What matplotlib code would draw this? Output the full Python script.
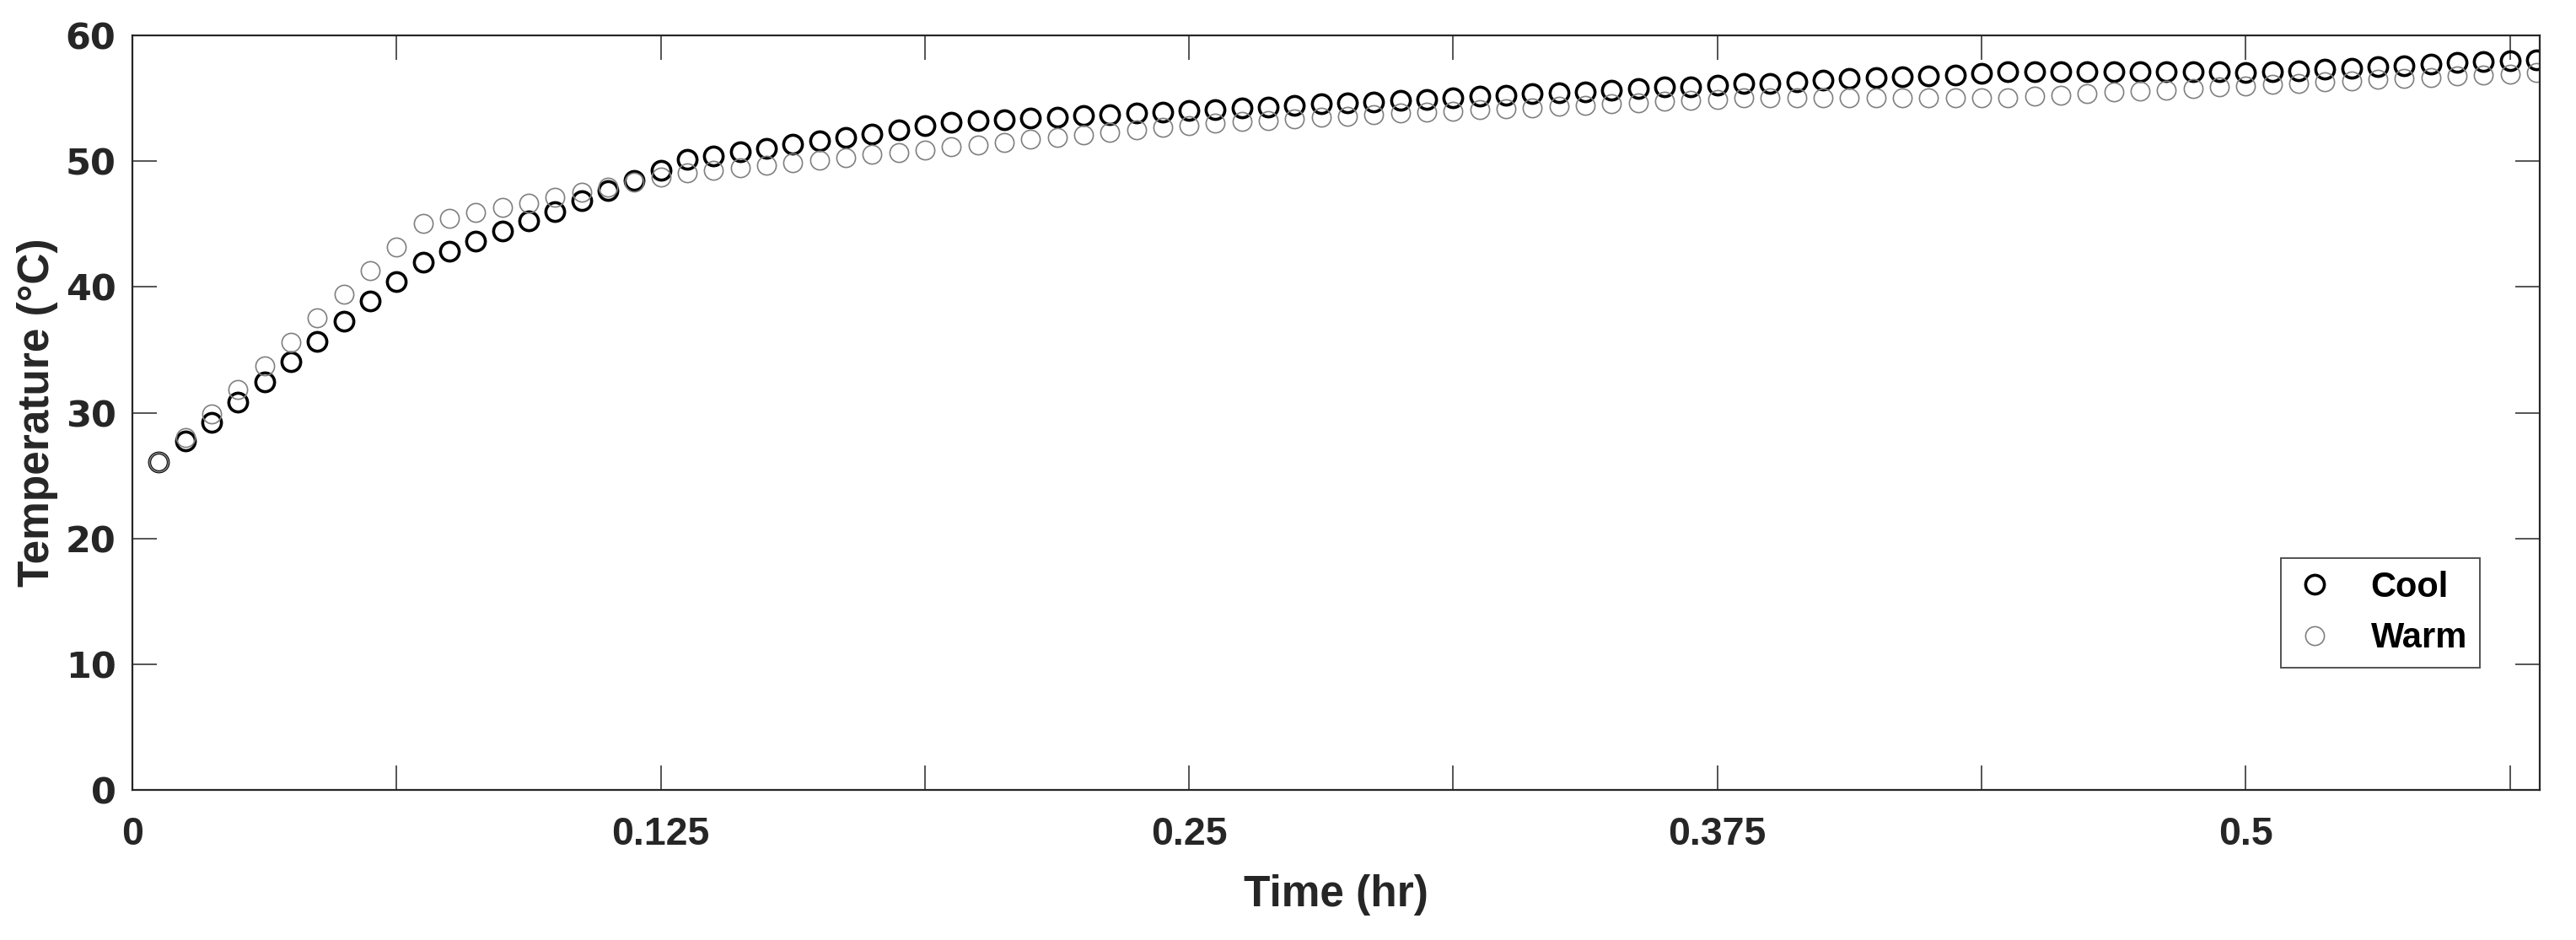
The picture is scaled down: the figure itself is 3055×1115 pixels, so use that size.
import numpy as np
import matplotlib
matplotlib.use("Agg")
import matplotlib.pyplot as plt

# temperature readings (deg C), one sample every 22.5 s
cool = [26.08, 27.75, 29.24, 30.87, 32.47, 34.05, 35.70, 37.26, 38.89, 40.44,
        42.00, 42.84, 43.67, 44.44, 45.23, 46.02, 46.83, 47.67, 48.46, 49.30,
        50.12, 50.40, 50.74, 51.01, 51.34, 51.63, 51.90, 52.19, 52.48, 52.82,
        53.08, 53.20, 53.31, 53.42, 53.53, 53.64, 53.73, 53.82, 53.93, 54.04,
        54.13, 54.22, 54.31, 54.42, 54.54, 54.65, 54.72, 54.83, 54.94, 55.03,
        55.16, 55.25, 55.36, 55.43, 55.54, 55.65, 55.76, 55.88, 55.94, 56.05,
        56.15, 56.21, 56.34, 56.43, 56.55, 56.66, 56.70, 56.81, 56.88, 56.99,
        57.10, 57.10, 57.10, 57.10, 57.10, 57.10, 57.10, 57.10, 57.10, 57.08,
        57.10, 57.22, 57.33, 57.42, 57.53, 57.60, 57.73, 57.84, 57.95, 58.00,
        58.06]
warm = [26.08, 28.04, 29.91, 31.83, 33.69, 35.61, 37.53, 39.42, 41.28, 43.15,
        45.07, 45.47, 45.90, 46.31, 46.67, 47.10, 47.55, 47.95, 48.35, 48.72,
        49.06, 49.28, 49.51, 49.69, 49.89, 50.07, 50.29, 50.52, 50.69, 50.89,
        51.12, 51.30, 51.52, 51.74, 51.90, 52.08, 52.30, 52.48, 52.68, 52.86,
        53.05, 53.17, 53.26, 53.35, 53.49, 53.60, 53.69, 53.82, 53.87, 53.98,
        54.09, 54.16, 54.22, 54.36, 54.47, 54.54, 54.65, 54.76, 54.87, 54.94,
        55.03, 55.05, 55.06, 55.07, 55.07, 55.07, 55.07, 55.07, 55.07, 55.07,
        55.07, 55.18, 55.27, 55.38, 55.50, 55.61, 55.65, 55.76, 55.92, 56.01,
        56.10, 56.21, 56.30, 56.39, 56.50, 56.59, 56.68, 56.77, 56.86, 56.95,
        57.06]
sample_interval_hr = 0.00625
time_hr = np.arange(1, len(cool) + 1) * sample_interval_hr

xticks = [0, 0.0625, 0.125, 0.1875, 0.25, 0.3125, 0.375, 0.4375, 0.5, 0.5625]
xticklabels = ["0", "", "0.125", "", "0.25", "", "0.375", "", "0.5", ""]
yticks = [0, 10, 20, 30, 40, 50, 60]

plt.rcParams["font.family"] = ["Liberation Sans", "DejaVu Sans"]
plt.rcParams["font.weight"] = "bold"

axcol = "#262626"

fig = plt.figure(figsize=(30.55, 11.15), dpi=100)
ax = fig.add_axes([0.0514, 0.1596, 0.9345, 0.8027])

ax.plot(time_hr, cool, linestyle="none", marker="o", markersize=16,
        markerfacecolor="none", markeredgecolor="black", markeredgewidth=2.6,
        label="Cool")
ax.plot(time_hr, warm, linestyle="none", marker="o", markersize=16,
        markerfacecolor="none", markeredgecolor="#808080", markeredgewidth=1.2,
        label="Warm")

ax.set_xlim(0, time_hr[-1] + 0.0008)
ax.set_ylim(0, 60)
ax.set_xticks(xticks)
ax.set_xticklabels(xticklabels)
ax.set_yticks(yticks)

ax.tick_params(axis="both", direction="in", length=21, width=1.1, color=axcol,
               labelcolor=axcol, top=True, right=True)
ax.tick_params(axis="x", pad=22, labelsize=33.5)
ax.tick_params(axis="y", pad=14, labelsize=31)
for lab in ax.get_xticklabels():
    lab.set_fontweight("bold")
for lab in ax.get_yticklabels():
    lab.set_fontweight("bold")
    lab.set_family("DejaVu Sans")
for s in ax.spines.values():
    s.set_color(axcol)
    s.set_linewidth(1.6)

ax.set_xlabel("Time (hr)", fontsize=37, fontweight="bold", color=axcol, labelpad=18)
ax.set_ylabel("Temperature (°C)", fontsize=37, fontweight="bold", color=axcol, labelpad=6)

leg = ax.legend(loc="lower right", bbox_to_anchor=(0.975, 0.162), borderaxespad=0,
                fancybox=False, edgecolor=axcol, handlelength=1.2,
                handletextpad=1.0, borderpad=0.35, labelspacing=0.5,
                prop={"weight": "bold", "size": 30})
leg.get_frame().set_linewidth(1.4)

fig.savefig("out.png", dpi=100, facecolor="white")
